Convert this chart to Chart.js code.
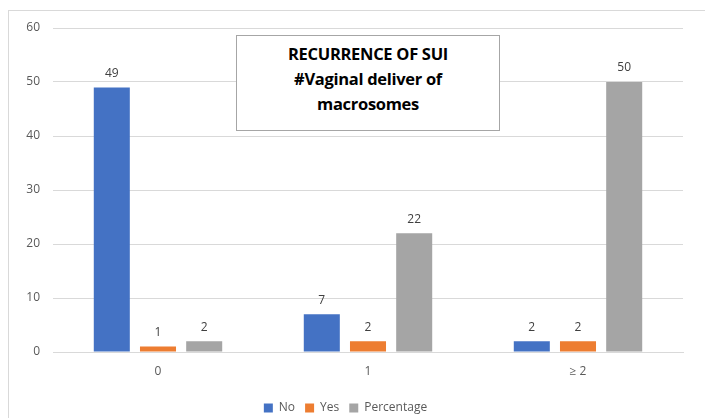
<!DOCTYPE html>
<html>
<head>
<meta charset="utf-8">
<script src="https://cdn.jsdelivr.net/npm/chart.js@4"></script>
<style>
  body { margin: 0; background: #fff; overflow: hidden; }
  #wrap { position: relative; width: 705px; height: 418px; overflow: hidden; }
  #frame { position: absolute; left: 8px; top: 10px; width: 720px; height: 420px; border: 1px solid #d9d9d9; box-sizing: border-box; }
  canvas { position: absolute; left: 0; top: 0; }
  #titlebox {
    position: absolute; left: 236px; top: 35px; width: 264px; height: 96px;
    border: 1px solid #a6a6a6; box-sizing: border-box; background: #fff;
    font-family: "Open Sans", "Liberation Sans", sans-serif; font-weight: bold; font-size: 16.5px;
    color: #000; text-align: center; line-height: 25px; padding-top: 5px; letter-spacing: -0.3px;
  }
</style>
</head>
<body>
<div id="wrap">
  <div id="frame"></div>
  <canvas id="c" width="705" height="424"></canvas>
  <div id="titlebox">RECURRENCE OF SUI<br>#Vaginal deliver of<br>macrosomes</div>
</div>
<script>
const categories = ["0", "1", "\u2265 2"];
const noValues = [49, 7, 2];
const yesValues = [1, 2, 2];
const percentageValues = [2, 22, 50];
const yTicks = [0, 10, 20, 30, 40, 50, 60];

// 柱子上方的數值
const valueLabels = {
  id: "valueLabels",
  afterDatasetsDraw(chart) {
    const ctx = chart.ctx;
    ctx.save();
    ctx.font = "12px 'Open Sans', 'Liberation Sans', sans-serif";
    ctx.fillStyle = "#404040";
    ctx.textAlign = "center";
    ctx.textBaseline = "bottom";
    chart.data.datasets.forEach((ds, i) => {
      chart.getDatasetMeta(i).data.forEach((bar, j) => {
        ctx.fillText(ds.data[j], bar.x, bar.y - 8);
      });
    });
    ctx.restore();
  }
};

new Chart(document.getElementById("c"), {
  type: "bar",
  data: {
    labels: categories,
    datasets: [
      { label: "No", data: noValues, backgroundColor: "#4472C4" },
      { label: "Yes", data: yesValues, backgroundColor: "#ED7D31" },
      { label: "Percentage", data: percentageValues, backgroundColor: "#A5A5A5" }
    ]
  },
  options: {
    responsive: false,
    animation: false,
    layout: { padding: { left: 8, top: 28, right: 22, bottom: 0 } },
    datasets: { bar: { categoryPercentage: 0.66, barPercentage: 0.78 } },
    scales: {
      x: {
        grid: { display: false },
        border: { color: "#d9d9d9" },
        ticks: { color: "#595959", font: { size: 12, family: "'Open Sans', 'Liberation Sans', sans-serif" }, padding: 4 },
        afterFit(scale) { scale.height = 40; }
      },
      y: {
        min: 0, max: 60,
        afterBuildTicks(scale) { scale.ticks = yTicks.map(v => ({ value: v })); },
        grid: { color: "#d9d9d9", drawTicks: false },
        border: { display: false },
        ticks: { color: "#595959", font: { size: 12, family: "'Open Sans', 'Liberation Sans', sans-serif" }, padding: 13 },
        afterFit(scale) { scale.width = 45; }
      }
    },
    plugins: {
      legend: {
        position: "bottom",
        labels: {
          boxWidth: 9, boxHeight: 9, padding: 10,
          color: "#595959",
          font: { size: 12, family: "'Open Sans', 'Liberation Sans', sans-serif" }
        }
      },
      tooltip: { enabled: false }
    }
  },
  plugins: [valueLabels]
});
</script>
</body>
</html>
